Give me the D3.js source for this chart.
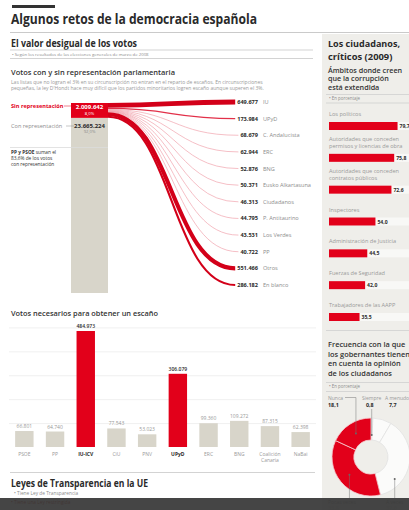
<!DOCTYPE html>
<html>
<head>
<meta charset="utf-8">
<script src="https://cdn.jsdelivr.net/npm/d3@7"></script>
<style>
  body { margin: 0; background: #fff; }
  svg { display: block; font-family: "Open Sans", sans-serif; }
</style>
</head>
<body>
<div id="chart"></div>
<script>
// votos sin representación, por partido
const flowParties = ['IU', 'UPyD', 'C. Andalucista', 'ERC', 'BNG', 'Eusko Alkartasuna', 'Ciudadanos', 'P. Antitaurino', 'Los Verdes', 'PP', 'Otros', 'En blanco'];
const flowVotes = [649677, 173984, 68679, 62944, 52876, 50371, 46313, 44795, 43531, 40722, 551466, 286182];
const repLabels = ['Sin representación', 'Con representación'];
const repVotes = [2009642, 23665224];
const repShares = ['8,0%', '92,0%'];

// votos necesarios para un escaño
const seatParties = ['PSOE', 'PP', 'IU-ICV', 'CiU', 'PNV', 'UPyD', 'ERC', 'BNG', 'Coalición Canaria', 'NaBai'];
const seatVotes = [66801, 64740, 484973, 77543, 53023, 306079, 99360, 109272, 87315, 62398];
const seatHighlight = ['IU-ICV', 'UPyD'];
const seatGrid = [100000, 200000, 300000, 400000, 500000];

// corrupción (%)
const corruptAreas = ['Los políticos', 'Autoridades que conceden\npermisos y licencias de obra', 'Autoridades que conceden\ncontratos públicos', 'Inspectores', 'Administración de Justicia', 'Fuerzas de Seguridad', 'Trabajadores de las AAPP'];
const corruptPct = [79.7, 75.8, 72.6, 54.0, 44.5, 42.0, 35.5];

// frecuencia con la que se tiene en cuenta la opinión (%)
const freqLabels = ['Siempre', 'A menudo', 'A veces', 'Pocas veces', 'Nunca'];
const freqPct = [0.8, 7.7, 37.6, 35.8, 18.1];
const freqRed = ['Pocas veces', 'Nunca'];

const RED = '#e2001a';
const DARK = '#2a2a2a';
const GREY = '#8c8c8c';
const BEIGE = '#d8d5ca';
const PANEL = '#efeeea';

const es = d3.formatLocale({ decimal: ',', thousands: '.', grouping: [3], currency: ['', ' €'] });
const fmtInt = es.format(',d');
const fmtPct = es.format('.1f');

const W = 409, H = 510;
const svg = d3.select('#chart').append('svg').attr('width', W).attr('height', H);

function txt(g, x, y, s, size, fill, weight, anchor) {
  return g.append('text').attr('x', x).attr('y', y).text(s)
    .attr('font-size', size).attr('fill', fill)
    .attr('font-weight', weight || 400)
    .attr('text-anchor', anchor || 'start');
}
function fit(sel, w) {
  if (sel.node().getComputedTextLength() > w) sel.attr('textLength', w).attr('lengthAdjust', 'spacingAndGlyphs');
  return sel;
}
function hline(g, x1, x2, y, color) {
  g.append('line').attr('x1', x1).attr('x2', x2).attr('y1', y).attr('y2', y)
    .attr('stroke', color || '#c8c8c8').attr('stroke-width', 0.8);
}

// ---------- cabecera ----------
svg.append('rect').attr('x', 12).attr('y', 5).attr('width', 43).attr('height', 3).attr('fill', '#333');
fit(txt(svg, 11, 24, 'Algunos retos de la democracia española', 14, DARK, 700), 246);
hline(svg, 10, W, 32.5, '#bdbdbd');

// panel derecho
svg.append('rect').attr('x', 322).attr('y', 34).attr('width', W - 322).attr('height', H - 34).attr('fill', PANEL);

// ---------- El valor desigual ----------
const left = svg.append('g');
fit(txt(left, 11, 47, 'El valor desigual de los votos', 10.5, DARK, 700), 126);
hline(left, 10, 313, 50);
txt(left, 12, 55.5, '• Según los resultados de las elecciones generales de marzo de 2008', 4.3, GREY);
hline(left, 10, 313, 58.5);

fit(txt(left, 11, 75, 'Votos con y sin representación parlamentaria', 7.6, '#333', 600), 164);
txt(left, 11, 83.5, 'Las listas que no logran el 3% en su circunscripción no entran en el reparto de escaños. En circunscripciones', 5, '#999');
txt(left, 11, 90, 'pequeñas, la ley D\'Hondt hace muy difícil que los partidos minoritarios logren escaño aunque superen el 3%.', 5, '#999');

// columna apilada con/sin representación
const totalVotes = d3.sum(repVotes);
const yRep = d3.scaleLinear().domain([0, totalVotes]).range([103, 293]);
const colX = 71, colW = 37;
const redTop = yRep(0), redBot = yRep(repVotes[0]);
left.append('rect').attr('x', colX).attr('y', redBot).attr('width', colW)
  .attr('height', yRep(totalVotes) - redBot).attr('fill', BEIGE);
left.append('rect').attr('x', colX).attr('y', redTop).attr('width', colW)
  .attr('height', redBot - redTop).attr('fill', RED);

txt(left, 11, 108, repLabels[0], 5.6, RED, 700);
left.append('line').attr('x1', 64).attr('x2', colX).attr('y1', 106).attr('y2', 106).attr('stroke', RED).attr('stroke-width', 0.5);
txt(left, colX + colW / 2, 109, fmtInt(repVotes[0]), 6, '#fff', 700, 'middle');
txt(left, colX + colW / 2, 114.5, repShares[0], 4.2, '#fff', 400, 'middle');

txt(left, 11, 128, repLabels[1], 5.6, GREY, 400);
left.append('line').attr('x1', 66).attr('x2', colX + 3).attr('y1', 126).attr('y2', 126).attr('stroke', GREY).attr('stroke-width', 0.5);
txt(left, colX + colW / 2, 128, fmtInt(repVotes[1]), 6, DARK, 700, 'middle');
txt(left, colX + colW / 2, 133, repShares[1], 4.2, GREY, 400, 'middle');

hline(left, 10, colX + colW, 147.5, '#dcdcdc');
const note = left.append('text').attr('x', 11).attr('font-size', 4.8).attr('fill', '#333');
note.append('tspan').attr('x', 11).attr('y', 154).attr('font-weight', 700).text('PP y PSOE');
note.append('tspan').text(' suman el');
note.append('tspan').attr('x', 11).attr('y', 160).text('83,6% de los votos');
note.append('tspan').attr('x', 11).attr('y', 166).text('con representación');

// flujos hacia cada partido
const flowY = d3.scalePoint().domain(flowParties).range([104, 287]);
const wScale = d3.scaleLinear().domain([0, repVotes[0]]).range([0, redBot - redTop]);
const link = d3.linkHorizontal().x(d => d[0]).y(d => d[1]);
const valX = 258;
let stack = redTop;
const flows = flowParties.map((p, i) => {
  const w = Math.max(0.7, wScale(flowVotes[i]));
  const sy = Math.min(stack + w / 2, redBot - w / 2);
  stack += wScale(flowVotes[i]);
  return { party: p, votes: flowVotes[i], w, sy, ty: flowY(p) - 2 };
});
const flowG = left.append('g');
const labG = left.append('g');
flows.forEach(f => {
  const v = txt(labG, valX, flowY(f.party), fmtInt(f.votes), 5.6, DARK, 700, 'end');
  txt(labG, valX + 5, flowY(f.party), f.party, 5.6, GREY);
  const endX = valX - v.node().getComputedTextLength() - 2;
  const color = f.votes > 200000 ? '#d30019' : (f.votes > 100000 ? '#e23049' : '#f0a3ad');
  flowG.append('path')
    .attr('d', link({ source: [colX + colW, f.sy], target: [endX, f.ty] }))
    .attr('fill', 'none').attr('stroke', color).attr('stroke-width', f.w);
});

// ---------- Votos necesarios para un escaño ----------
const bars = svg.append('g');
fit(txt(bars, 11, 316, 'Votos necesarios para obtener un escaño', 7.6, '#333', 600), 147);
const xSeat = d3.scaleBand().domain(seatParties).range([9, 316]).paddingInner(0.4).paddingOuter(0.2);
const ySeat = d3.scaleLinear().domain([0, 484973]).range([447, 331]);
bars.append('g')
  .call(d3.axisLeft(ySeat).tickValues(seatGrid).tickSize(-307).tickFormat(''))
  .attr('transform', 'translate(9,0)')
  .call(g => g.select('.domain').remove())
  .call(g => g.selectAll('.tick line').attr('stroke', '#ececec').attr('stroke-width', 0.8));
bars.selectAll('rect.bar').data(seatParties).join('rect').attr('class', 'bar')
  .attr('x', d => xSeat(d)).attr('width', xSeat.bandwidth())
  .attr('y', (d, i) => ySeat(seatVotes[i]))
  .attr('height', (d, i) => ySeat(0) - ySeat(seatVotes[i]))
  .attr('fill', d => seatHighlight.includes(d) ? RED : BEIGE);
seatParties.forEach((p, i) => {
  const hi = seatHighlight.includes(p);
  const cx = xSeat(p) + xSeat.bandwidth() / 2;
  txt(bars, cx, ySeat(seatVotes[i]) - 3, fmtInt(seatVotes[i]), 5, hi ? DARK : '#999', hi ? 600 : 400, 'middle');
  const words = p === 'Coalición Canaria' ? ['Coalición', 'Canaria'] : [p];
  words.forEach((w, k) => txt(bars, cx, 456 + k * 6, w, 5, hi ? DARK : '#999', hi ? 700 : 400, 'middle'));
});
hline(bars, 10, 315, 472.5, '#c8c8c8');

// ---------- Leyes de Transparencia ----------
fit(txt(svg, 11, 487, 'Leyes de Transparencia en la UE', 10.5, DARK, 700), 137);
txt(svg, 14, 495, '• Tiene Ley de Transparencia', 4.8, GREY);
txt(svg, 11, 503.5, '• Tiene una Ley restringida', 4.8, '#c0392b');

// ---------- Los ciudadanos, críticos ----------
const right = svg.append('g');
fit(txt(right, 328, 46.5, 'Los ciudadanos,', 9.4, DARK, 700), 72);
fit(txt(right, 328, 59.5, 'críticos (2009)', 9.4, DARK, 700), 68);
['Ámbitos donde creen', 'que la corrupción', 'está extendida'].forEach((s, k) =>
  txt(right, 328, 72.5 + k * 8.5, s, 7.2, '#333', 600));
hline(right, 326, W, 94.5, '#cfcfcf');
txt(right, 329, 99.5, '• En porcentaje', 4.4, GREY);
hline(right, 326, W, 103, '#cfcfcf');

const xPct = d3.scaleLinear().domain([0, 100]).range([0, 86]);
const yRow = d3.scalePoint().domain(corruptAreas).range([122, 313]);
const barX = 329, barH = 8;
corruptAreas.forEach((a, i) => {
  const y = yRow(a);
  const lines = a.split('\n');
  lines.forEach((s, k) => txt(right, barX, y - 6 - (lines.length - 1 - k) * 6.5, s, 5.6, '#999'));
  right.append('rect').attr('x', barX).attr('y', y).attr('width', W - barX).attr('height', barH).attr('fill', '#f8f8f6');
  right.append('rect').attr('x', barX).attr('y', y).attr('width', xPct(corruptPct[i])).attr('height', barH).attr('fill', RED);
  txt(right, barX + xPct(corruptPct[i]) + 2, y + 6, fmtPct(corruptPct[i]), 5.1, DARK, 700);
});
hline(right, 326, W, 330.5, '#cfcfcf');

['Frecuencia con la que', 'los gobernantes tienen', 'en cuenta la opinión', 'de los ciudadanos'].forEach((s, k) =>
  txt(right, 328, 347 + k * 9.5, s, 7.4, '#333', 600));
hline(right, 326, W, 382.5, '#cfcfcf');
txt(right, 329, 388, '• En porcentaje', 4.4, GREY);
hline(right, 326, W, 391.5, '#cfcfcf');

// donut
const cx = 371, cy = 457;
const pie = d3.pie().sort(null).value(d => d.v);
const arcs = pie(freqLabels.map((l, i) => ({ l, v: freqPct[i] })));
const arc = d3.arc().innerRadius(17).outerRadius(39);
const donut = right.append('g').attr('transform', `translate(${cx},${cy})`);
donut.selectAll('path').data(arcs).join('path')
  .attr('d', arc)
  .attr('fill', d => freqRed.includes(d.data.l) ? RED : '#fbfbfa')
  .attr('stroke', d => freqRed.includes(d.data.l) ? '#f6c9ce' : '#e2e2e2')
  .attr('stroke-width', 0.8);

// etiquetas y guías
const byLabel = Object.fromEntries(arcs.map(a => [a.data.l, a]));
const topLabels = [
  { l: 'Nunca', x: 328 },
  { l: 'Siempre', x: 362 },
  { l: 'A menudo', x: 385 }
];
const guide = right.append('g').attr('stroke', '#777').attr('stroke-width', 0.5).attr('fill', 'none');
topLabels.forEach(t => {
  const i = freqLabels.indexOf(t.l);
  txt(right, t.x, 399.5, t.l, 5, '#999');
  txt(right, t.x + (t.l === 'Nunca' ? 0 : 4), 407, fmtPct(freqPct[i]), 5.4, DARK, 700);
});
const bottomLabels = [
  { l: 'Pocas veces', x: 328 },
  { l: 'A veces', x: 386 }
];
bottomLabels.forEach(t => {
  const i = freqLabels.indexOf(t.l);
  txt(right, t.x, 503.5, t.l, 5, '#aaa');
  txt(right, t.x, 509.5, fmtPct(freqPct[i]), 5.4, '#ddd', 700);
});
function dot(p) {
  right.append('circle').attr('cx', p[0]).attr('cy', p[1]).attr('r', 1).attr('fill', '#666');
}
const cN = arc.centroid(byLabel['Nunca']).map((v, k) => v + (k ? cy : cx));
guide.append('polyline').attr('points', `345,397.5 ${cN[0]},397.5 ${cN[0]},${cN[1]}`);
dot(cN);
const cS = arc.centroid(byLabel['Siempre']).map((v, k) => v + (k ? cy : cx));
guide.append('polyline').attr('points', `${cS[0]},409 ${cS[0]},${cS[1] + 6}`);
dot([cS[0], cS[1] + 6]);
const cP = arc.centroid(byLabel['Pocas veces']).map((v, k) => v + (k ? cy : cx));
guide.append('polyline').attr('points', `${cP[0]},498 ${cP[0]},${cP[1]}`);
dot(cP);
const cA = arc.centroid(byLabel['A veces']).map((v, k) => v + (k ? cy : cx));
guide.append('polyline').attr('points', `${cA[0] - 4},498 ${cA[0] - 4},${cA[1] + 18}`);
dot([cA[0] - 4, cA[1] + 18]);

// franja oscura inferior
svg.append('rect').attr('x', 0).attr('y', 498).attr('width', W).attr('height', H - 498)
  .attr('fill', '#353535').attr('opacity', 0.92);
</script>
</body>
</html>
